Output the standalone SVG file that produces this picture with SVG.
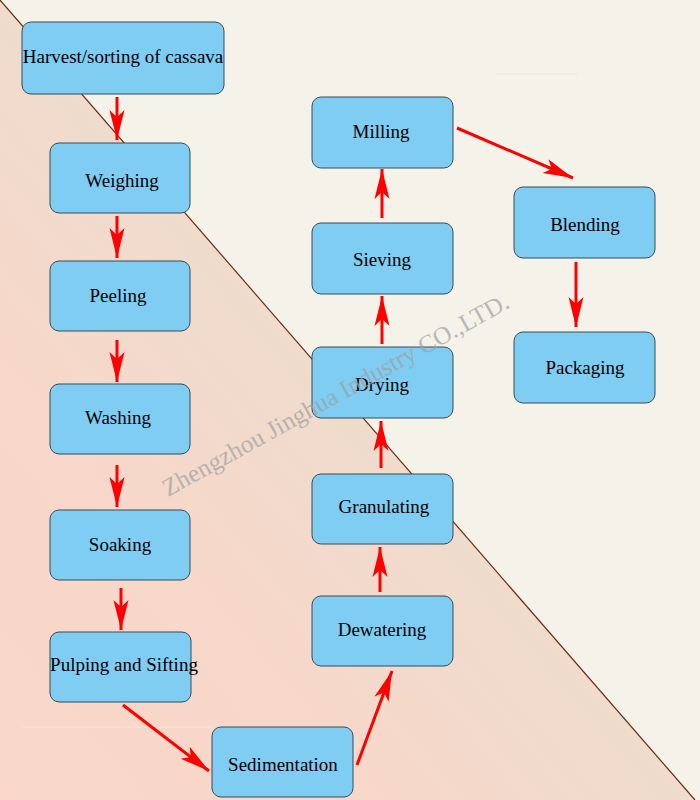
<svg xmlns="http://www.w3.org/2000/svg" width="700" height="800" viewBox="0 0 700 800">
  <defs>
    <linearGradient id="pinkGrad" gradientUnits="userSpaceOnUse" x1="0" y1="800" x2="396" y2="456">
      <stop offset="0" stop-color="#fad7c9"/>
      <stop offset="0.55" stop-color="#f7d8ca"/>
      <stop offset="1" stop-color="#efdccd"/>
    </linearGradient>
    <marker id="arrow" markerUnits="userSpaceOnUse" viewBox="-31 -9 32 18" refX="0" refY="0" markerWidth="32" markerHeight="18" orient="auto">
      <path d="M0,0 L-30,-7.5 L-23,0 L-30,7.5 Z" fill="#ff0000"/>
    </marker>
  </defs>
  <style>
    .box { fill: #7fcdf3; stroke: #3b4a55; stroke-width: 1; }
    .label { font-family: "Liberation Serif", "Times New Roman", serif; font-size: 19px; fill: #000000; text-anchor: middle; }
    .conn { stroke: #ff0000; stroke-width: 3; fill: none; marker-end: url(#arrow); }
    .wm { font-family: "Liberation Serif", "Times New Roman", serif; font-size: 25px; fill: #a0a0a0; opacity: 0.7; }
  </style>

  <!-- background -->
  <rect x="0" y="0" width="700" height="800" fill="#f5f3e9"/>
  <polygon points="0,0 695,800 0,800" fill="url(#pinkGrad)"/>
  <line x1="0" y1="0" x2="695" y2="800" stroke="#6a2a12" stroke-width="1.2"/>
  <line x1="496" y1="74" x2="578" y2="74" stroke="#e6e9d8" stroke-width="1"/>
  <line x1="22" y1="727" x2="212" y2="727" stroke="#fbe3d8" stroke-width="1"/>

  <!-- connectors -->
  <g id="connectors">
    <line class="conn" x1="117" y1="97" x2="117" y2="140"/>
    <line class="conn" x1="117" y1="216" x2="117" y2="258"/>
    <line class="conn" x1="117" y1="340" x2="117" y2="382"/>
    <line class="conn" x1="117" y1="465" x2="117" y2="507"/>
    <line class="conn" x1="121" y1="588" x2="121" y2="630"/>
    <line class="conn" x1="123" y1="705" x2="209" y2="771"/>
    <line class="conn" x1="357" y1="765" x2="392" y2="671"/>
    <line class="conn" x1="380" y1="592" x2="380" y2="547"/>
    <line class="conn" x1="381" y1="468" x2="381" y2="421"/>
    <line class="conn" x1="382" y1="344" x2="382" y2="296"/>
    <line class="conn" x1="382" y1="218" x2="382" y2="169"/>
    <line class="conn" x1="457" y1="128" x2="573" y2="178"/>
    <line class="conn" x1="576" y1="262" x2="576" y2="327"/>
  </g>

  <!-- nodes -->
  <g id="harvest">
    <rect class="box" x="22" y="22" width="202" height="72" rx="9"/>
    <text class="label" x="123" y="63">Harvest/sorting of cassava</text>
  </g>
  <g id="weighing">
    <rect class="box" x="50" y="143" width="140" height="70" rx="9"/>
    <text class="label" x="122" y="187">Weighing</text>
  </g>
  <g id="peeling">
    <rect class="box" x="50" y="261" width="140" height="70" rx="9"/>
    <text class="label" x="118" y="302">Peeling</text>
  </g>
  <g id="washing">
    <rect class="box" x="50" y="384" width="140" height="70" rx="9"/>
    <text class="label" x="118" y="424">Washing</text>
  </g>
  <g id="soaking">
    <rect class="box" x="50" y="510" width="140" height="70" rx="9"/>
    <text class="label" x="120" y="551">Soaking</text>
  </g>
  <g id="pulping">
    <rect class="box" x="50" y="632" width="141" height="70" rx="9"/>
    <text class="label" x="124" y="671">Pulping and Sifting</text>
  </g>
  <g id="sedimentation">
    <rect class="box" x="212" y="727" width="141" height="70" rx="9"/>
    <text class="label" x="283" y="771">Sedimentation</text>
  </g>
  <g id="dewatering">
    <rect class="box" x="312" y="596" width="141" height="70" rx="9"/>
    <text class="label" x="382" y="636">Dewatering</text>
  </g>
  <g id="granulating">
    <rect class="box" x="312" y="474" width="141" height="70" rx="9"/>
    <text class="label" x="384" y="513">Granulating</text>
  </g>
  <g id="drying">
    <rect class="box" x="312" y="347" width="141" height="71" rx="9"/>
    <text class="label" x="382" y="391">Drying</text>
  </g>
  <g id="sieving">
    <rect class="box" x="312" y="223" width="141" height="71" rx="9"/>
    <text class="label" x="382" y="266">Sieving</text>
  </g>
  <g id="milling">
    <rect class="box" x="312" y="97" width="141" height="71" rx="9"/>
    <text class="label" x="381" y="138">Milling</text>
  </g>
  <g id="blending">
    <rect class="box" x="514" y="187" width="141" height="71" rx="9"/>
    <text class="label" x="585" y="231">Blending</text>
  </g>
  <g id="packaging">
    <rect class="box" x="514" y="332" width="141" height="71" rx="9"/>
    <text class="label" x="585" y="374">Packaging</text>
  </g>

  <!-- watermark -->
  <text class="wm" x="168" y="497" transform="rotate(-29 168 497)">Zhengzhou Jinghua Industry CO.,LTD.</text>
</svg>
